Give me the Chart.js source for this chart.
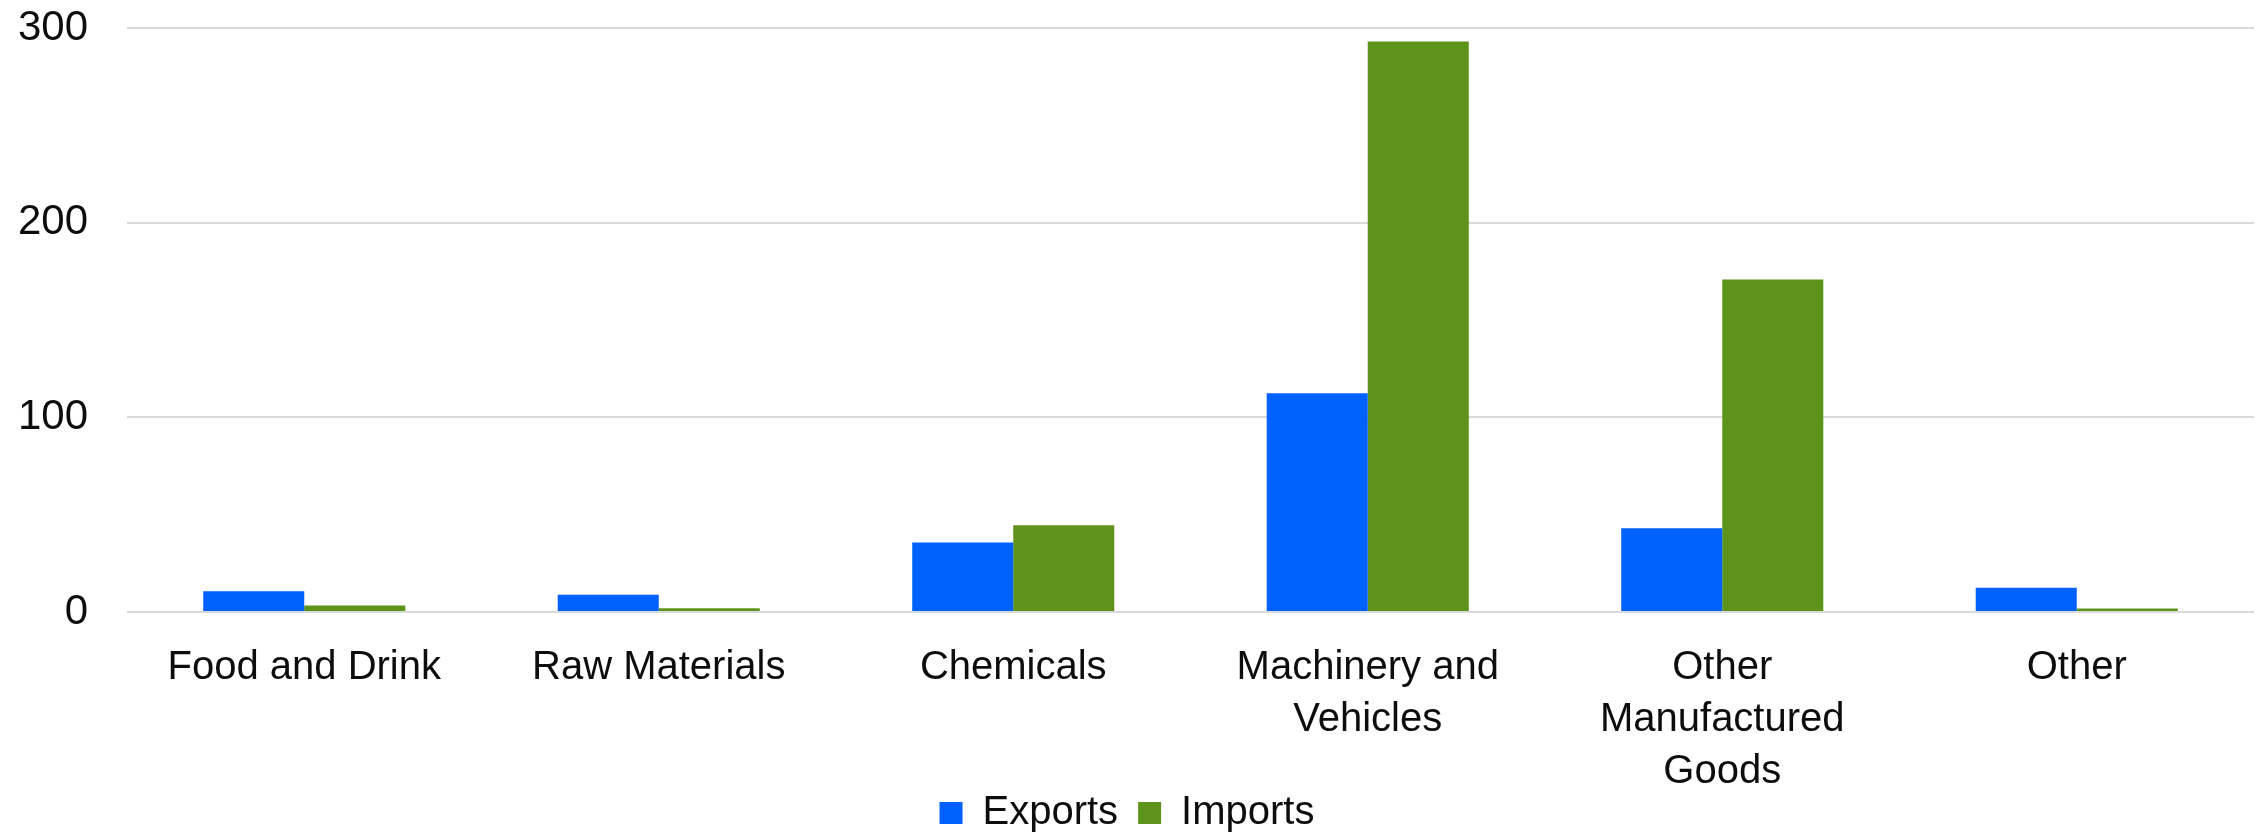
<!DOCTYPE html>
<html>
<head>
<meta charset="utf-8">
<script src="https://cdn.jsdelivr.net/npm/chart.js@4/dist/chart.umd.min.js"></script>
<style>
  html, body { margin: 0; padding: 0; background: #fff; }
  #trade { display: block; }
</style>
</head>
<body>
<canvas id="trade" width="2265" height="834"></canvas>
<script>
// trade by product group
const categories = [
  'Food and Drink',
  'Raw Materials',
  'Chemicals',
  ['Machinery and', 'Vehicles'],
  ['Other', 'Manufactured', 'Goods'],
  'Other'
];
const exportsData = [10.6, 8.9, 35.7, 112.4, 43.0, 12.4];
const importsData = [3.4, 1.9, 44.6, 293.1, 170.8, 1.8];
const yTicks = [0, 100, 200, 300];

const FONT = "'Liberation Sans', Arial, sans-serif";
const TEXT = '#0d0d0d';
const gridColor = '#d9d9d9';

const X_PAD = 30;
const X_LINE = 52;
const LEGEND_H = 61;

// legend sits close under the labels, overlapping the tall x axis box
const legendPlacement = {
  id: 'legendPlacement',
  beforeInit(chart) {
    const fit = chart.legend.fit;
    chart.legend.fit = function () {
      fit.call(this);
      this.height = 10;
    };
  },
  afterLayout(chart) {
    const lg = chart.legend;
    lg.top = chart.height - LEGEND_H;
    lg.bottom = chart.height;
    lg.height = LEGEND_H;
  }
};

const ctx = document.getElementById('trade');
new Chart(ctx, {
  type: 'bar',
  data: {
    labels: categories,
    datasets: [
      { label: 'Exports', data: exportsData, backgroundColor: '#0061fe', borderWidth: 0 },
      { label: 'Imports', data: importsData, backgroundColor: '#5e931b', borderWidth: 0 }
    ]
  },
  plugins: [legendPlacement],
  options: {
    responsive: false,
    animation: false,
    layout: { padding: { left: 0, right: 11, top: 28, bottom: 0 } },
    datasets: {
      bar: { categoryPercentage: 0.57, barPercentage: 1.0 }
    },
    scales: {
      x: {
        grid: { display: false, drawTicks: false },
        border: { display: false },
        ticks: {
          color: TEXT,
          font: { family: FONT, size: 40, lineHeight: X_LINE / 40 },
          padding: X_PAD,
          maxRotation: 0,
          autoSkip: false
        },
        afterFit(axis) {
          axis.paddingLeft = 0;
          axis.paddingRight = 0;
          // chart area bottom lands at ~612
          axis.height = 834 - 10 - 612;
        }
      },
      y: {
        min: yTicks[0],
        max: yTicks[yTicks.length - 1],
        afterBuildTicks: (axis) => { axis.ticks = yTicks.map(v => ({ value: v })); },
        grid: { color: gridColor, lineWidth: 2, drawTicks: false },
        border: { display: false },
        ticks: {
          color: TEXT,
          font: { family: FONT, size: 42 },
          padding: 39
        },
        afterFit(axis) {
          axis.paddingTop = 0;
          axis.paddingBottom = 0;
          axis.width = 127;
        }
      }
    },
    plugins: {
      legend: {
        position: 'bottom',
        labels: {
          color: TEXT,
          font: { family: FONT, size: 40 },
          boxWidth: 23,
          boxHeight: 22,
          padding: 20
        }
      },
      tooltip: { enabled: false }
    }
  }
});
</script>
</body>
</html>
